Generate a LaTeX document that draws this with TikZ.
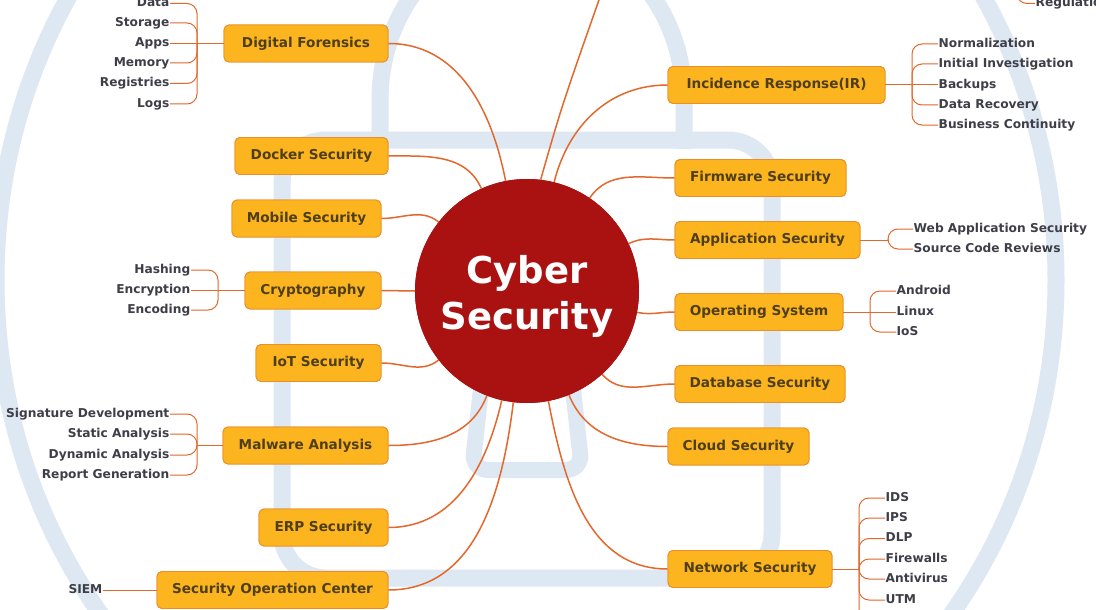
\documentclass[tikz,border=0pt]{standalone}
\usepackage{fontspec}
\setmainfont{DejaVu Sans}
\definecolor{lockblue}{RGB}{221,232,243}
\definecolor{boxfill}{RGB}{252,181,30}
\definecolor{boxborder}{RGB}{233,142,42}
\definecolor{boxtext}{RGB}{78,62,26}
\definecolor{kidtext}{RGB}{62,62,72}
\definecolor{linecol}{RGB}{226,104,44}
\definecolor{cred}{RGB}{170,17,17}
\tikzset{
  lock/.style={draw=lockblue, line width=17pt},
  box/.style={draw=boxborder, fill=boxfill, line width=0.9pt, rounded corners=5pt,
    text=boxtext, font=\fontsize{13.6}{15}\selectfont\bfseries, minimum height=37, inner sep=0},
  kid/.style={font=\fontsize{12.2}{14}\selectfont\bfseries, text=kidtext, inner sep=0.5pt,
    text height=9pt, text depth=2.6pt},
  main/.style={draw=linecol, line width=1.5pt},
  sub/.style={draw=linecol, line width=1pt, rounded corners=10pt},
}
\begin{document}
\begin{tikzpicture}[x=1pt,y=-1pt]
\useasboundingbox (0,0) rectangle (1096,610);
\fill[white] (0,0) rectangle (1096,610);
% background lock
\draw[lock] (526,280) ellipse [x radius=530, y radius=560];
\draw[lock] (380,149) -- (380,100) arc[start angle=180, end angle=360, x radius=152, y radius=170] -- (684,149);
\draw[lock, rounded corners=44] (282,140) rectangle (772,578);
\draw[lock, line width=16pt, rounded corners=16] (482,380) -- (472,470) -- (582,470) -- (572,380);

% centre
\node[circle, fill=cred, minimum size=224, inner sep=0] (C) at (527,291) {};
% main boxes
\node[box, minimum width=164] (df) at (306,43.5) {Digital Forensics};
\node[box, minimum width=153] (docker) at (311.5,156) {Docker Security};
\node[box, minimum width=149] (mobile) at (306.5,218.5) {Mobile Security};
\node[box, minimum width=136] (crypto) at (313,290.5) {Cryptography};
\node[box, minimum width=125] (iot) at (318.5,363) {IoT Security};
\node[box, minimum width=165] (malware) at (305.5,445.5) {Malware Analysis};
\node[box, minimum width=129] (erp) at (323.5,527.5) {ERP Security};
\node[box, minimum width=231] (soc) at (272.5,590) {Security Operation Center};
\node[box, minimum width=217] (ir) at (776.5,85) {Incidence Response(IR)};
\node[box, minimum width=171] (firm) at (760.5,178) {Firmware Security};
\node[box, minimum width=185] (app) at (767.5,240) {Application Security};
\node[box, minimum width=168] (os) at (759,312) {Operating System};
\node[box, minimum width=170] (db) at (760,384) {Database Security};
\node[box, minimum width=141] (cloud) at (738.5,446.5) {Cloud Security};
\node[box, minimum width=164] (net) at (750,569) {Network Security};
\coordinate (gov) at (606,-20);

% main connectors
\draw[main] (df.east) to[out=0,in=101] (C.101);
\draw[main] (docker.east) to[out=0,in=114] (C.114);
\draw[main] (mobile.east) to[out=0,in=142] (C.142);
\draw[main] (crypto.east) -- (C.180);
\draw[main] (iot.east) to[out=0,in=218] (C.218);
\draw[main] (malware.east) to[out=0,in=249] (C.249);
\draw[main] (erp.east) to[out=0,in=257] (C.257);
\draw[main] (soc.east) to[out=0,in=263] (C.263);
\draw[main] (C.83) .. controls (562,105) .. (gov);
\draw[main] (ir.west) to[out=180,in=76] (C.76);
\draw[main] (firm.west) to[out=180,in=56] (C.56);
\draw[main] (app.west) to[out=180,in=25] (C.25);
\draw[main] (os.west) to[out=180,in=-11] (C.-11);
\draw[main] (db.west) to[out=180,in=-48] (C.-48);
\draw[main] (cloud.west) to[out=180,in=-68] (C.-68);
\draw[main] (net.west) to[out=180,in=-79] (C.-79);

% redraw circle and boxes on top of connectors
\node[circle, fill=cred, minimum size=224, inner sep=0] (Cfill) at (527,291) {};
\node[text=white, align=center, inner sep=0,
  font=\fontsize{37}{46}\selectfont\bfseries] (Ctext) at (527,296) {Cyber\\Security};
\foreach \n/\w/\t in {df/164/Digital Forensics, docker/153/Docker Security, mobile/149/Mobile Security,
  crypto/136/Cryptography, iot/125/IoT Security, malware/165/Malware Analysis, erp/129/ERP Security,
  soc/231/Security Operation Center, ir/217/Incidence Response(IR), firm/171/Firmware Security,
  app/185/Application Security, os/168/Operating System, db/170/Database Security,
  cloud/141/Cloud Security, net/164/Network Security}
  \node[box, minimum width=\w] at (\n) {\t};

% children: Digital Forensics
\coordinate (jdf) at (197,43.5);
\node[kid, anchor=east] (df1) at (170,3.5) {Data};
\node[kid, anchor=east] (df2) at (170,23) {Storage};
\node[kid, anchor=east] (df3) at (170,43.5) {Apps};
\node[kid, anchor=east] (df4) at (170,63) {Memory};
\node[kid, anchor=east] (df5) at (170,83.5) {Registries};
\node[kid, anchor=east] (df6) at (170,104) {Logs};
\draw[sub] (df.west) -- (jdf);
\foreach \c in {df1,df2,df4,df5,df6} \draw[sub] (jdf) |- (\c.east);
\draw[sub] (jdf) -- (df3.east);

% Cryptography
\coordinate (jcr) at (218,290.5);
\node[kid, anchor=east] (cr1) at (191,270) {Hashing};
\node[kid, anchor=east] (cr2) at (191,290.5) {Encryption};
\node[kid, anchor=east] (cr3) at (191,310) {Encoding};
\draw[sub] (crypto.west) -- (jcr);
\draw[sub] (jcr) |- (cr1.east);
\draw[sub] (jcr) -- (cr2.east);
\draw[sub] (jcr) |- (cr3.east);

% Malware Analysis
\coordinate (jmw) at (197,445.5);
\node[kid, anchor=east] (mw1) at (170,414) {Signature Development};
\node[kid, anchor=east] (mw2) at (170,434) {Static Analysis};
\node[kid, anchor=east] (mw3) at (170,455) {Dynamic Analysis};
\node[kid, anchor=east] (mw4) at (170,475) {Report Generation};
\draw[sub] (malware.west) -- (jmw);
\foreach \c in {mw1,mw2,mw3,mw4} \draw[sub] (jmw) |- (\c.east);

% SOC
\node[kid, anchor=east] (siem) at (103,590) {SIEM};
\draw[sub] (soc.west) -- (siem.east);

% Incidence Response
\coordinate (jir) at (912,85);
\node[kid, anchor=west] (ir1) at (938,44) {Normalization};
\node[kid, anchor=west] (ir2) at (938,64) {Initial Investigation};
\node[kid, anchor=west] (ir3) at (938,85) {Backups};
\node[kid, anchor=west] (ir4) at (938,105) {Data Recovery};
\node[kid, anchor=west] (ir5) at (938,125) {Business Continuity};
\draw[sub] (ir.east) -- (jir);
\foreach \c in {ir1,ir2,ir4,ir5} \draw[sub] (jir) |- (\c.west);
\draw[sub] (jir) -- (ir3.west);

% Application Security
\coordinate (japp) at (888,240);
\node[kid, anchor=west] (ap1) at (913,229) {Web Application Security};
\node[kid, anchor=west] (ap2) at (913,249) {Source Code Reviews};
\draw[sub] (app.east) -- (japp);
\foreach \c in {ap1,ap2} \draw[sub] (japp) |- (\c.west);

% Operating System
\coordinate (jos) at (870,312);
\node[kid, anchor=west] (os1) at (896,291) {Android};
\node[kid, anchor=west] (os2) at (896,312) {Linux};
\node[kid, anchor=west] (os3) at (896,332) {IoS};
\draw[sub] (os.east) -- (jos);
\draw[sub] (jos) |- (os1.west);
\draw[sub] (jos) -- (os2.west);
\draw[sub] (jos) |- (os3.west);

% Network Security
\coordinate (jnet) at (859,569);
\node[kid, anchor=west] (nt1) at (885,498) {IDS};
\node[kid, anchor=west] (nt2) at (885,518) {IPS};
\node[kid, anchor=west] (nt3) at (885,538.5) {DLP};
\node[kid, anchor=west] (nt4) at (885,559) {Firewalls};
\node[kid, anchor=west] (nt5) at (885,579) {Antivirus};
\node[kid, anchor=west] (nt6) at (885,600) {UTM};
\coordinate (nt7) at (885,621);
\draw[sub] (net.east) -- (jnet);
\foreach \c in {nt1,nt2,nt3,nt4,nt5,nt6} \draw[sub] (jnet) |- (\c.west);
\draw[sub] (jnet) |- (nt7);

% Regulation (top right, cut by the edge)
\coordinate (jreg) at (1017,-40);
\node[kid, anchor=west] (reg) at (1035,3.5) {Regulation};
\draw[sub] (jreg) |- (reg.west);
\end{tikzpicture}
\end{document}
